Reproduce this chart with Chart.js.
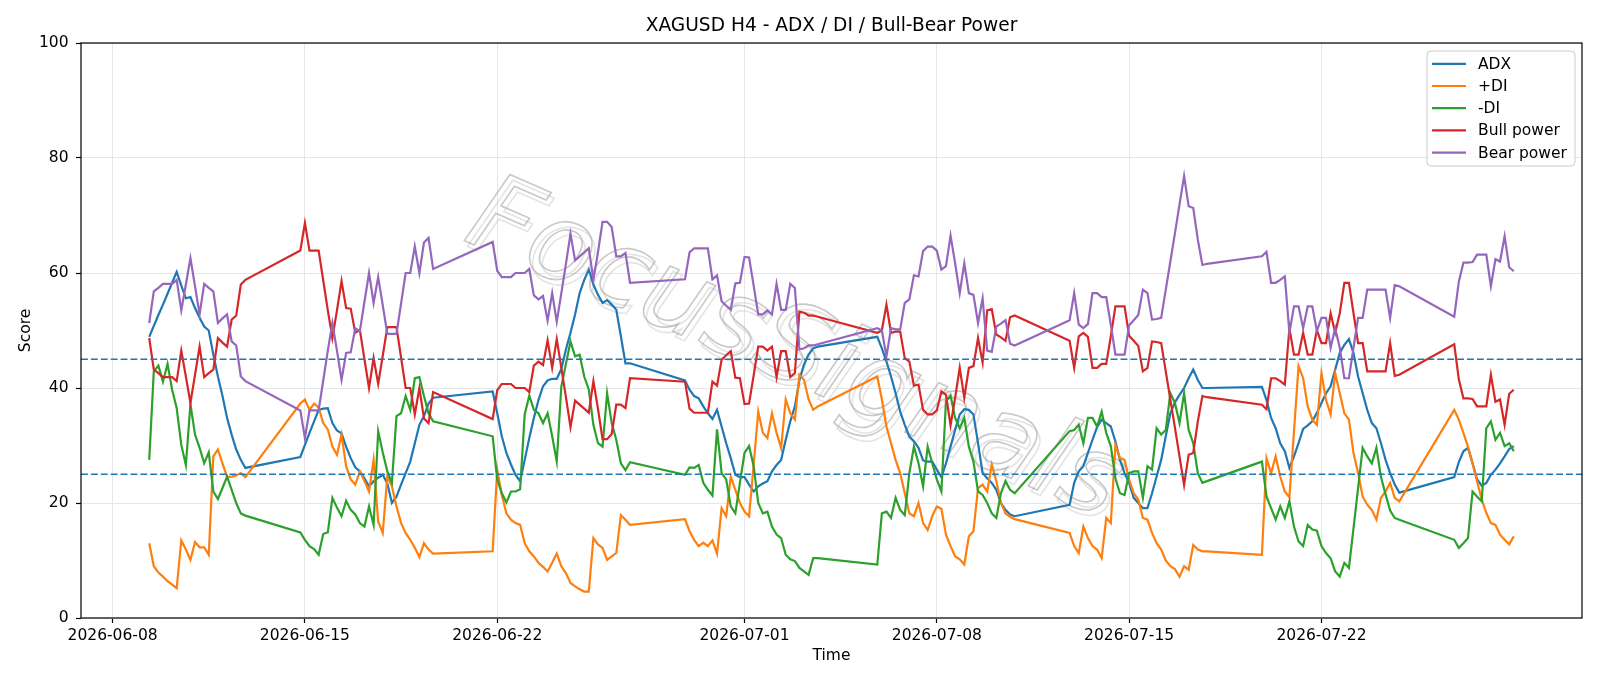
<!DOCTYPE html>
<html>
<head>
<meta charset="utf-8">
<script src="https://cdn.jsdelivr.net/npm/chart.js@4.4.1/dist/chart.umd.min.js"></script>
<style>
html,body{margin:0;padding:0;background:#fff;}
#wrap{width:1600px;height:686px;position:relative;}
</style>
</head>
<body>
<div id="wrap"><canvas id="c" width="1600" height="686"></canvas></div>
<script>
// ---- Data (H4 bars, weekend gaps) ----
const sessions = [
  ['2026-06-09T08:00', '2026-06-12T20:00'],
  ['2026-06-14T20:00', '2026-06-19T16:00'],
  ['2026-06-21T20:00', '2026-06-26T20:00'],
  ['2026-06-28T20:00', '2026-07-03T16:00'],
  ['2026-07-05T20:00', '2026-07-10T20:00'],
  ['2026-07-12T20:00', '2026-07-17T20:00'],
  ['2026-07-19T20:00', '2026-07-24T20:00'],
  ['2026-07-26T20:00', '2026-07-29T00:00']
];
const tickDates = ['2026-06-08','2026-06-15','2026-06-22','2026-07-01','2026-07-08','2026-07-15','2026-07-22'];
const seriesNames = ['ADX', '+DI', '-DI', 'Bull power', 'Bear power'];
const thresholds = [45, 25];
const watermarkText = 'FocusSignals';

const adx = [
  48.9,50.8,52.7,54.5,56.4,58.3,60.2,57.8,55.6,55.8,53.9,52.2,50.7,50.0,45.8,42.0,38.6,34.8,31.9,29.3,27.5,26.1,
  28.0,30.1,32.2,34.2,36.2,36.4,36.5,33.9,32.6,32.1,29.8,27.8,26.2,25.5,24.3,22.9,23.8,24.4,24.9,23.4,20.0,21.1,23.2,25.2,27.2,30.4,33.6,35.1,37.3,38.3,
  39.4,35.6,31.6,28.7,26.7,24.9,23.8,27.5,31.3,34.8,37.9,40.3,41.3,41.6,41.6,43.3,46.7,49.6,52.8,56.5,58.8,60.6,58.0,56.2,54.8,55.3,54.5,53.6,49.0,44.3,44.3,
  41.3,39.7,38.6,38.2,36.8,35.6,34.6,36.2,33.3,30.4,27.8,24.9,24.5,24.5,23.2,22.0,22.9,23.4,23.8,25.5,26.6,27.5,31.0,34.2,36.8,41.4,44.1,45.8,46.9,47.2,
  48.9,46.9,44.6,42.0,39.1,35.9,33.6,31.6,30.7,29.6,27.4,27.2,27.2,25.8,24.5,26.9,29.8,32.7,35.4,36.3,36.2,35.4,30.4,25.2,24.3,23.5,22.3,20.0,18.8,18.0,17.7,
  19.7,23.5,25.5,26.4,28.7,31.0,33.2,34.5,33.9,33.3,30.7,27.5,25.2,23.5,20.9,20.0,19.1,19.1,21.7,24.6,27.5,31.6,35.6,37.5,38.8,40.0,41.7,43.2,41.4,40.0,40.0,
  40.2,37.9,34.8,33.0,30.4,29.0,26.1,28.1,30.4,32.9,33.5,34.2,35.7,37.4,39.1,40.3,43.2,46.1,47.5,48.5,46.1,42.0,39.1,36.2,33.9,33.0,30.4,27.5,25.2,23.2,21.8,
  24.5,27.1,29.0,29.6,26.9,24.1,23.0,23.5,24.9,25.8,26.9,28.1,29.4,29.9
];
const plusDI = [
  13.0,9.0,7.9,7.2,6.4,5.8,5.2,13.5,11.9,10.1,13.2,12.3,12.3,11.0,28.1,29.3,26.9,24.5,24.6,24.8,25.2,24.5,
  37.3,38.0,36.2,37.3,36.6,33.9,32.8,29.8,28.4,31.9,26.4,24.1,23.2,25.5,23.8,22.0,27.5,16.8,14.8,24.6,22.9,19.4,16.5,14.8,13.6,12.2,10.6,13.0,11.9,11.2,
  11.6,25.8,21.4,18.2,17.1,16.5,16.2,13.0,11.6,10.7,9.6,8.9,8.1,9.6,11.2,9.0,7.8,6.1,5.5,5.0,4.6,4.6,13.9,12.8,12.2,10.1,10.7,11.3,17.9,17.1,16.2,
  17.2,15.1,13.6,12.5,13.1,12.5,13.5,11.2,19.1,17.7,24.6,22.3,20.0,18.5,17.7,26.7,35.9,32.2,31.3,35.6,32.2,29.6,38.0,35.6,34.5,42.3,41.4,38.0,36.2,36.8,
  42.0,38.0,33.3,30.4,27.5,25.2,21.7,18.2,17.7,20.0,16.5,15.3,17.7,19.4,19.0,14.5,12.5,10.7,10.2,9.3,14.2,15.1,22.6,23.2,22.0,26.7,23.8,20.0,18.2,17.6,17.2,
  14.8,12.5,11.3,15.9,13.9,12.5,11.9,10.4,17.4,16.5,30.1,27.8,27.5,24.1,21.7,20.6,17.4,17.1,14.8,13.0,11.9,10.0,9.0,8.5,7.2,9.0,8.4,12.7,11.9,11.6,11.6,
  11.0,27.8,25.2,28.1,24.6,22.0,21.0,32.4,43.8,41.7,36.8,34.5,33.6,42.6,37.9,35.4,42.6,39.1,35.6,34.5,28.7,25.2,21.1,19.7,18.8,17.1,20.9,22.0,23.5,20.9,20.3,
  36.2,34.5,32.2,29.8,26.9,23.7,20.6,18.3,16.5,16.2,14.5,13.6,12.8,14.2
];
const minusDI = [
  27.5,42.9,43.9,41.1,44.2,39.7,36.5,30.1,26.6,37.2,31.9,29.6,26.9,28.8,22.0,20.7,22.6,24.6,22.3,20.0,18.2,17.8,
  14.9,13.6,12.5,12.0,11.0,14.6,14.9,20.9,19.2,17.7,20.4,18.8,18.0,16.5,15.9,19.4,16.2,32.5,28.8,25.5,23.5,35.1,35.6,38.6,36.2,41.7,41.9,38.6,35.6,34.2,
  31.6,24.1,21.7,20.1,22.0,22.0,22.4,35.4,38.7,36.2,35.6,33.9,35.6,31.6,27.2,40.3,44.2,48.1,45.5,45.8,42.0,39.7,33.6,30.4,29.8,39.1,33.9,31.0,26.9,25.7,27.1,
  24.9,26.2,26.1,26.6,23.5,22.3,21.3,32.8,25.2,24.1,19.4,18.2,23.5,28.7,29.9,26.4,20.0,18.2,18.5,15.9,14.5,13.9,11.0,10.2,9.9,8.7,8.1,7.5,10.4,10.4,
  9.3,18.2,18.5,17.4,20.9,18.8,17.9,25.2,29.8,26.9,22.9,29.8,26.9,24.1,22.0,37.7,38.7,34.8,33.0,34.8,29.8,27.2,22.0,21.4,20.0,18.2,17.4,21.7,23.8,22.3,21.7,
  32.5,32.7,33.6,30.4,34.8,34.8,33.3,35.9,32.2,29.9,24.3,21.7,21.4,25.2,25.5,25.5,20.9,26.4,25.8,33.0,31.9,32.7,39.1,37.4,33.9,39.1,32.7,30.4,25.2,23.5,23.8,
  27.2,21.1,19.1,17.1,19.4,17.4,20.3,15.9,13.3,12.5,16.2,15.4,15.2,12.5,11.3,10.4,8.1,7.2,9.6,8.7,15.6,22.6,29.6,28.1,26.9,29.6,24.5,21.5,18.7,17.4,17.1,
  13.6,12.2,13.0,13.9,22.0,21.1,20.3,33.0,34.2,31.0,32.2,29.9,30.4,29.0
];
const bullPower = [
  48.7,43.2,42.6,41.9,41.9,41.9,41.2,46.5,42.0,37.4,42.3,47.2,41.9,42.6,43.2,48.7,47.9,47.2,51.9,52.6,58.0,58.8,
  63.9,68.7,63.9,63.9,63.9,58.7,53.5,48.7,53.5,58.6,53.9,53.8,49.6,50.1,45.0,40.0,45.2,40.7,45.6,50.6,50.6,50.6,45.3,40.0,40.0,35.4,40.0,34.7,33.9,39.3,
  34.6,39.6,40.7,40.7,40.7,40.0,40.0,40.0,39.3,43.9,44.6,44.0,48.3,43.5,48.5,43.5,38.4,33.2,37.8,37.1,36.4,35.7,41.2,36.4,31.1,31.1,32.0,37.1,37.1,36.5,41.7,
  41.1,36.4,35.7,35.7,35.7,35.7,41.1,40.4,44.9,45.7,46.4,41.8,41.7,37.2,37.3,42.2,47.2,47.2,46.5,47.2,41.9,46.4,46.4,41.9,42.6,53.3,53.1,52.6,52.6,52.4,
  49.6,50.0,54.5,49.6,49.8,49.8,45.2,44.6,40.4,40.6,36.2,35.4,35.4,36.1,39.4,38.8,33.5,38.3,43.5,38.3,43.5,43.8,48.7,44.4,53.5,53.7,49.3,48.8,48.2,52.3,52.6,
  48.2,43.5,49.0,49.6,48.9,43.5,43.5,44.2,44.2,49.0,54.2,54.2,54.2,49.1,48.2,47.3,42.9,43.5,48.1,48.0,47.8,42.9,38.0,33.1,28.1,23.1,28.4,28.7,34.2,38.6,38.4,
  37.1,36.3,41.7,41.7,41.2,40.6,50.4,45.8,45.8,49.6,45.8,45.8,50.1,47.8,47.8,53.0,49.6,53.0,58.3,58.3,53.0,47.8,47.8,42.9,42.9,42.9,42.9,42.9,47.8,42.1,42.3,
  47.6,41.5,38.2,38.2,38.1,36.8,36.8,36.8,42.3,37.6,38.0,33.6,39.0,39.7
];
const bearPower = [
  51.3,56.8,57.4,58.1,58.1,58.1,58.8,53.5,58.0,62.6,57.7,52.8,58.1,57.4,56.8,51.3,52.1,52.8,48.1,47.4,42.0,41.2,
  36.1,31.3,36.1,36.1,36.1,41.3,46.5,51.3,46.5,41.4,46.1,46.2,50.4,49.9,55.0,60.0,54.8,59.3,54.4,49.4,49.4,49.4,54.7,60.0,60.0,64.6,60.0,65.3,66.1,60.7,
  65.4,60.4,59.3,59.3,59.3,60.0,60.0,60.0,60.7,56.1,55.4,56.0,51.7,56.5,51.5,56.5,61.6,66.8,62.2,62.9,63.6,64.3,58.8,63.6,68.9,68.9,68.0,62.9,62.9,63.5,58.3,
  58.9,63.6,64.3,64.3,64.3,64.3,58.9,59.6,55.1,54.3,53.6,58.2,58.3,62.8,62.7,57.8,52.8,52.8,53.5,52.8,58.1,53.6,53.6,58.1,57.4,46.7,46.9,47.4,47.4,47.6,
  50.4,50.0,45.5,50.4,50.2,50.2,54.8,55.4,59.6,59.4,63.8,64.6,64.6,63.9,60.6,61.2,66.5,61.7,56.5,61.7,56.5,56.2,51.3,55.6,46.5,46.3,50.7,51.2,51.8,47.7,47.4,
  51.8,56.5,51.0,50.4,51.1,56.5,56.5,55.8,55.8,51.0,45.8,45.8,45.8,50.9,51.8,52.7,57.1,56.5,51.9,52.0,52.2,57.1,62.0,66.9,71.9,76.9,71.6,71.3,65.8,61.4,61.6,
  62.9,63.7,58.3,58.3,58.8,59.4,49.6,54.2,54.2,50.4,54.2,54.2,49.9,52.2,52.2,47.0,50.4,47.0,41.7,41.7,47.0,52.2,52.2,57.1,57.1,57.1,57.1,57.1,52.2,57.9,57.7,
  52.4,58.5,61.8,61.8,61.9,63.2,63.2,63.2,57.7,62.4,62.0,66.4,61.0,60.3
];

// ---- time helpers ----
const EPOCH = Date.UTC(2026, 5, 8);
const DAY_MS = 86400000;
function parseUTC(s) {
  const [d, t = '00:00'] = s.split('T');
  const [Y, M, D] = d.split('-').map(Number);
  const [h, m] = t.split(':').map(Number);
  return Date.UTC(Y, M - 1, D, h, m);
}
const toDay = s => (parseUTC(s) - EPOCH) / DAY_MS;
const times = [];
sessions.forEach(([a, b]) => {
  for (let ms = parseUTC(a); ms <= parseUTC(b); ms += 4 * 3600000) times.push((ms - EPOCH) / DAY_MS);
});
const t0 = times[0], t1 = times[times.length - 1];
const xMin = t0 - 0.05 * (t1 - t0), xMax = t1 + 0.05 * (t1 - t0);
const tickVals = tickDates.map(toDay);

const colors = ['#1f77b4', '#ff7f0e', '#2ca02c', '#d62728', '#9467bd'];
const allSeries = [adx, plusDI, minusDI, bullPower, bearPower];
const FONT = "'DejaVu Sans', sans-serif";

const datasets = allSeries.map((vals, k) => ({
  label: seriesNames[k],
  data: vals.map((v, i) => ({x: times[i], y: v})),
  borderColor: colors[k],
  backgroundColor: colors[k],
  borderWidth: 2.2,
  pointRadius: 0,
  tension: 0,
  fill: false,
  order: 5 - k
}));
thresholds.forEach(lv => datasets.push({
  label: 'level ' + lv,
  data: [{x: xMin, y: lv}, {x: xMax, y: lv}],
  borderColor: '#1f77b4',
  borderWidth: 1.7,
  borderDash: [6.9, 3.0],
  pointRadius: 0,
  fill: false,
  order: 0
}));

const decor = {
  id: 'decor',
  beforeDraw(chart) {
    const ctx = chart.ctx;
    ctx.save(); ctx.fillStyle = '#fff'; ctx.fillRect(0, 0, chart.width, chart.height); ctx.restore();
  },
  beforeDatasetsDraw(chart) {
    const ctx = chart.ctx, ca = chart.chartArea;
    ctx.save();
    ctx.beginPath(); ctx.rect(ca.left, ca.top, ca.right - ca.left, ca.bottom - ca.top); ctx.clip();
    ctx.translate(ca.left + (ca.right - ca.left) * 0.475, ca.top + (ca.bottom - ca.top) * 0.54);
    ctx.rotate(23.5 * Math.PI / 180);
    ctx.font = "italic 108px 'DejaVu Sans', sans-serif";
    ctx.textAlign = 'center'; ctx.textBaseline = 'middle';
    ctx.lineWidth = 1.6;
    ctx.strokeStyle = 'rgba(210,210,210,0.6)';
    ctx.strokeText(watermarkText, 5, 4);
    ctx.strokeStyle = 'rgba(165,165,165,0.6)';
    ctx.strokeText(watermarkText, 0, 0);
    ctx.restore();
  },
  afterDraw(chart) {
    const ctx = chart.ctx, ca = chart.chartArea;
    ctx.save();
    ctx.strokeStyle = '#000'; ctx.lineWidth = 1.2;
    ctx.strokeRect(ca.left, ca.top, ca.right - ca.left, ca.bottom - ca.top);
    ctx.fillStyle = '#000';
    ctx.font = '18.6px ' + FONT;
    ctx.textAlign = 'center'; ctx.textBaseline = 'middle';
    ctx.fillText('XAGUSD H4 - ADX / DI / Bull-Bear Power', (ca.left + ca.right) / 2, 26);
    const bw = 148, bh = 115;
    const bx = ca.right - 7 - bw, by = ca.top + 8;
    ctx.beginPath();
    if (ctx.roundRect) ctx.roundRect(bx, by, bw, bh, 4); else ctx.rect(bx, by, bw, bh);
    ctx.fillStyle = 'rgba(255,255,255,0.8)'; ctx.fill();
    ctx.strokeStyle = '#cccccc'; ctx.lineWidth = 1; ctx.stroke();
    ctx.font = '15.5px ' + FONT; ctx.textAlign = 'left'; ctx.textBaseline = 'middle';
    seriesNames.forEach((name, k) => {
      const yy = by + 12.8 + k * 22.2;
      ctx.strokeStyle = colors[k]; ctx.lineWidth = 2.2;
      ctx.beginPath(); ctx.moveTo(bx + 5, yy); ctx.lineTo(bx + 39, yy); ctx.stroke();
      ctx.fillStyle = '#000';
      ctx.fillText(name, bx + 51, yy + 1);
    });
    ctx.restore();
  }
};

new Chart(document.getElementById('c'), {
  type: 'line',
  data: {datasets},
  options: {
    responsive: false,
    animation: false,
    devicePixelRatio: 1,
    layout: {padding: {left: 0, top: 43, right: 18, bottom: 0}},
    plugins: {legend: {display: false}, tooltip: {enabled: false}, title: {display: false}},
    scales: {
      x: {
        type: 'linear', min: xMin, max: xMax,
        afterBuildTicks: s => { s.ticks = tickVals.map(v => ({value: v})); },
        afterFit: s => { s.height = 68; },
        ticks: {
          autoSkip: false, maxRotation: 0, color: '#000', padding: 4,
          font: {family: FONT, size: 15.5},
          callback: (v, i) => tickDates[i]
        },
        grid: {color: '#e6e6e6', lineWidth: 1, tickColor: '#000', tickLength: 5, tickWidth: 1.2},
        border: {display: false},
        title: {display: true, text: 'Time', color: '#000', font: {family: FONT, size: 15.5}, padding: {top: 0, bottom: 20.7}}
      },
      y: {
        type: 'linear', min: 0, max: 100,
        afterFit: s => { s.width = 81; },
        ticks: {stepSize: 20, color: '#000', padding: 7.5, font: {family: FONT, size: 15.5}},
        grid: {color: '#e6e6e6', lineWidth: 1, tickColor: '#000', tickLength: 5, tickWidth: 1.2},
        border: {display: false},
        title: {display: true, text: 'Score', color: '#000', font: {family: FONT, size: 15.5}, padding: {top: 16.2, bottom: 0}}
      }
    }
  },
  plugins: [decor]
});
</script>
</body>
</html>
